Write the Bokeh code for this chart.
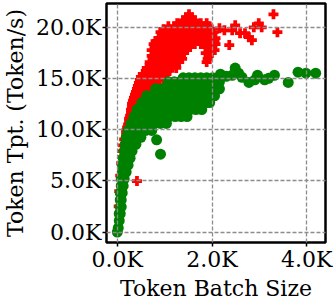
from bokeh.plotting import figure
from bokeh.models import Range1d, FixedTicker
from bokeh.embed import file_html
from bokeh.resources import INLINE

# ---- ticks / labels ----
x_ticks = [0, 2000, 4000]
x_tick_labels = ["0.0K", "2.0K", "4.0K"]
y_ticks = [0, 5000, 10000, 15000, 20000]
y_tick_labels = ["0.0K", "5.0K", "10.0K", "15.0K", "20.0K"]
x_title = "Token Batch Size"
y_title = "Token Tpt. (Token/s)"

# ---- red series (token batch size, token throughput) ----
red_main = [
    (1513, 21240),
    (1451, 20950), (1575, 20950),
    (1389, 20660), (1513, 20660), (1637, 20660),
    (1264, 20370), (1389, 20370), (1513, 20370), (1637, 20370), (1762, 20370), (1886, 20370),
    (1078, 20080), (1202, 20080), (1327, 20080), (1451, 20080), (1575, 20080), (1700, 20080), (1824, 20080), (1928, 20080),
    (974, 19790), (1099, 19790), (1223, 19790), (1347, 19790), (1472, 19790), (1596, 19790), (1721, 19790), (1845, 19790), (1969, 19790),
    (912, 19500), (1037, 19500), (1161, 19500), (1285, 19500), (1410, 19500), (1534, 19500), (1658, 19500), (1783, 19500), (1907, 19500), (2032, 19500),
    (974, 19210), (1099, 19210), (1223, 19210), (1347, 19210), (1472, 19210), (1596, 19210), (1721, 19210), (1845, 19210), (1969, 19210),
    (871, 18920), (995, 18920), (1119, 18920), (1244, 18920), (1368, 18920), (1493, 18920), (1617, 18920), (1741, 18920), (1866, 18920), (1990, 18920), (2073, 18920),
    (808, 18630), (933, 18630), (1057, 18630), (1182, 18630), (1306, 18630), (1430, 18630), (1555, 18630), (1679, 18630), (1804, 18630), (1928, 18630), (2052, 18630),
    (767, 18340), (891, 18340), (1016, 18340), (1140, 18340), (1264, 18340), (1389, 18340), (1513, 18340), (1637, 18340), (1762, 18340), (1886, 18340), (2011, 18340), (2073, 18340),
    (788, 18050), (912, 18050), (1037, 18050), (1161, 18050), (1285, 18050), (1410, 18050), (1534, 18050), (1866, 18050), (1990, 18050),
    (726, 17760), (850, 17760), (974, 17760), (1099, 17760), (1223, 17760), (1347, 17760), (1472, 17760), (1928, 17760), (2052, 17760),
    (788, 17470), (912, 17470), (1037, 17470), (1161, 17470), (1285, 17470), (1410, 17470), (1866, 17470), (1990, 17470),
    (726, 17180), (850, 17180), (974, 17180), (1099, 17180), (1223, 17180), (1347, 17180), (1928, 17180),
    (746, 16890), (871, 16890), (995, 16890), (1119, 16890), (1244, 16890), (1368, 16890), (1907, 16890),
    (684, 16590), (808, 16590), (933, 16590), (1057, 16590), (1182, 16590), (1306, 16590), (1886, 16590),
    (684, 16300), (808, 16300), (933, 16300), (1057, 16300), (1182, 16300),
    (622, 16010), (746, 16010), (871, 16010), (995, 16010), (1119, 16010), (1244, 16010),
    (601, 15720), (726, 15720), (850, 15720), (974, 15720), (1099, 15720),
    (539, 15430), (663, 15430), (788, 15430), (912, 15430), (1037, 15430),
    (498, 15140), (622, 15140), (746, 15140), (871, 15140), (995, 15140),
    (477, 14850), (601, 14850), (726, 14850), (850, 14850), (974, 14850),
    (456, 14560), (580, 14560), (705, 14560), (829, 14560),
    (435, 14270), (560, 14270), (684, 14270), (808, 14270),
    (415, 13980), (539, 13980), (663, 13980),
    (394, 13690), (518, 13690), (643, 13690),
    (373, 13400), (498, 13400),
    (352, 13110), (477, 13110),
    (332, 12820), (456, 12820),
    (311, 12530), (435, 12530),
    (311, 12240),
    (290, 11950), (394, 11950),
    (290, 11660),
    (270, 11370), (352, 11370),
    (249, 11080),
    (249, 10790), (311, 10790),
    (228, 10500),
    (207, 10210), (270, 10210),
    (187, 9920), (187, 9630), (145, 9050), (124, 8470), (104, 7890), (104, 7310), (83, 6720),
    (62, 5500), (41, 4000), (30, 2500),
]
red_tail = [
    (2156, 19880), (2260, 19690), (2363, 18240), (2425, 19690), (2488, 20170),
    (2591, 19400), (2695, 19400), (2778, 19010), (2840, 18720), (2881, 19980),
    (2985, 20370), (3047, 19980), (3296, 21240), (3379, 19500),
]
red_outlier = [(415, 4980)]

# ---- green series ----
green_low = [
    (0, 0), (20, 400), (41, 1110), (41, 1790), (62, 1790), (62, 2470), (83, 2470),
    (62, 3140), (83, 3140), (62, 3820), (104, 3820), (83, 4500), (124, 4500),
    (83, 5180), (145, 5180), (104, 5850), (187, 5850), (104, 6530), (166, 6530), (228, 6530),
    (124, 7210), (187, 7210), (270, 7210), (145, 7890), (228, 7890), (311, 7890),
    (166, 8560), (270, 8560), (394, 8560), (187, 9240), (311, 9240), (435, 9240), (498, 9240),
]
green_outliers = [(912, 7600), (830, 9000)]
green_main = [
    (228, 9920), (352, 9920), (477, 9920), (601, 9920), (726, 9920),
    (290, 10600), (415, 10600), (539, 10600), (663, 10600), (788, 10600), (912, 10600), (1037, 10600),
    (352, 11270), (477, 11270), (601, 11270), (726, 11270), (850, 11270), (974, 11270), (1099, 11270), (1223, 11270), (1347, 11270), (1472, 11270),
    (415, 11950), (539, 11950), (663, 11950), (788, 11950), (912, 11950), (1037, 11950), (1161, 11950), (1285, 11950), (1410, 11950), (1534, 11950), (1658, 11950), (1783, 11950),
    (518, 12630), (642, 12630), (767, 12630), (891, 12630), (1016, 12630), (1140, 12630), (1264, 12630), (1389, 12630), (1513, 12630), (1637, 12630), (1762, 12630), (1886, 12630), (1950, 12630),
    (622, 13300), (746, 13300), (870, 13300), (995, 13300), (1119, 13300), (1244, 13300), (1368, 13300), (1493, 13300), (1617, 13300), (1741, 13300), (1866, 13300), (1990, 13300), (2052, 13300),
    (808, 13980), (932, 13980), (1057, 13980), (1182, 13980), (1306, 13980), (1430, 13980), (1555, 13980), (1679, 13980), (1803, 13980), (1928, 13980), (2052, 13980), (2156, 13980),
    (1078, 14660), (1202, 14660), (1326, 14660), (1451, 14660), (1575, 14660), (1700, 14660), (1824, 14660), (1949, 14660), (2073, 14660), (2156, 14660),
    (1389, 15050), (1513, 15050), (1637, 15050), (1762, 15050), (1886, 15050), (2011, 15050), (2135, 15050),
]
green_tail = [
    (2177, 15400), (2300, 15200), (2425, 15300), (2488, 16000), (2560, 15500),
    (2632, 15100), (2778, 14600), (2902, 14850), (2960, 15300), (3110, 14850),
    (3192, 15000), (3317, 15300), (3607, 14600), (3814, 15600), (3980, 15500), (4187, 15500),
]

red_pts = red_main + red_tail + red_outlier
green_pts = green_low + green_outliers + green_main + green_tail

p = figure(width=336, height=303, output_backend="svg", toolbar_location=None,
           x_range=Range1d(-228, 4394), y_range=Range1d(-1016, 22300),
           min_border_left=102, min_border_right=11, min_border_top=3, min_border_bottom=59)
p.background_fill_color = "white"
p.border_fill_color = "white"

p.scatter([a for a, b in red_pts], [b for a, b in red_pts], marker="plus", size=10,
          fill_color="#ff0000", line_color=None)
p.scatter([a for a, b in green_pts], [b for a, b in green_pts], marker="circle", size=11,
          fill_color="#008000", line_color=None)

p.outline_line_color = "black"
p.outline_line_width = 2.5

p.xaxis.ticker = FixedTicker(ticks=x_ticks)
p.yaxis.ticker = FixedTicker(ticks=y_ticks)
p.xgrid.ticker = FixedTicker(ticks=x_ticks)
p.ygrid.ticker = FixedTicker(ticks=y_ticks)
p.xaxis.major_label_overrides = dict(zip(x_ticks, x_tick_labels))
p.yaxis.major_label_overrides = dict(zip(y_ticks, y_tick_labels))

for g in (p.xgrid, p.ygrid):
    g.grid_line_color = "#8c8c8c"
    g.grid_line_width = 1.3
    g.grid_line_dash = "4 2"
    g.level = "annotation"

p.xaxis.axis_label = x_title
p.yaxis.axis_label = y_title
for ax in (p.xaxis, p.yaxis):
    ax.axis_line_color = None
    ax.major_tick_line_color = "black"
    ax.major_tick_line_width = 1.5
    ax.major_tick_out = 4
    ax.major_tick_in = 0
    ax.minor_tick_line_color = None
    ax.major_label_text_font = "DejaVu Serif"
    ax.major_label_text_font_size = "22px"
    ax.major_label_text_color = "black"
    ax.axis_label_text_font = "DejaVu Serif"
    ax.axis_label_text_font_style = "normal"
    ax.axis_label_text_color = "black"
    ax.axis_label_text_font_size = "22px"
p.xaxis.major_label_standoff = 0
p.yaxis.major_label_standoff = 1
p.xaxis.axis_label_standoff = 1
p.yaxis.axis_label_standoff = 5

open("out.html", "w").write(file_html(p, INLINE))
